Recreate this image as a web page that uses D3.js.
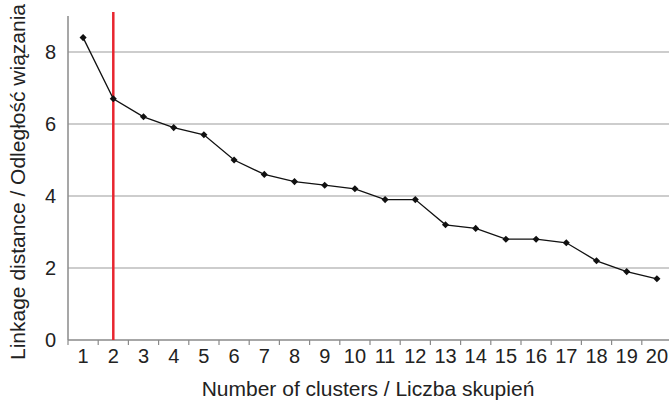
<!DOCTYPE html>
<html>
<head>
<meta charset="utf-8">
<script src="https://cdn.jsdelivr.net/npm/d3@7"></script>
<style>
  body { margin: 0; background: #fff; }
  svg text { font-family: "Liberation Sans", Arial, sans-serif; fill: #222; }
</style>
</head>
<body>
<svg width="669" height="404"></svg>
<script>
const clusters = d3.range(1, 21);
const distances = [8.4, 6.7, 6.2, 5.9, 5.7, 5.0, 4.6, 4.4, 4.3, 4.2,
                   3.9, 3.9, 3.2, 3.1, 2.8, 2.8, 2.7, 2.2, 1.9, 1.7];
const yTicks = [0, 2, 4, 6, 8];
const markedCluster = 2;

const svg = d3.select('svg');
const plotLeft = 68, plotRight = 672, plotTop = 16, plotBottom = 340;

let x = d3.scaleBand()
    .domain(clusters)
    .range([plotLeft, plotRight]);

let y = d3.scaleLinear()
    .domain([0, 9])
    .range([plotBottom, plotTop]);

// grid
svg.append('g')
    .selectAll('line')
    .data(yTicks.filter(d => d > 0))
    .enter().append('line')
    .attr('x1', plotLeft).attr('x2', 669)
    .attr('y1', d => y(d)).attr('y2', d => y(d))
    .attr('stroke', '#bdbdbd')
    .attr('stroke-width', 1.5);

// y axis
let yAxis = svg.append('g')
    .attr('transform', `translate(${plotLeft},0)`)
    .call(d3.axisLeft(y).tickValues(yTicks).tickSize(0).tickPadding(12));
yAxis.select('.domain').attr('stroke', '#8a8a8a').attr('stroke-width', 1.5)
    .attr('d', `M0,${plotTop}V${plotBottom}`);
yAxis.selectAll('.tick text').style('font-size', '20px').attr('fill', '#222');

// x axis
let xAxis = svg.append('g')
    .attr('transform', `translate(0,${plotBottom})`)
    .call(d3.axisBottom(x).tickSize(0).tickPadding(9));
xAxis.select('.domain').attr('stroke', '#8a8a8a').attr('stroke-width', 1.5)
    .attr('d', `M${plotLeft},0H669`);
xAxis.selectAll('.tick text').style('font-size', '20px').attr('fill', '#222');
xAxis.selectAll('.sep')
    .data(clusters)
    .enter().append('line')
    .attr('class', 'sep')
    .attr('x1', d => x(d)).attr('x2', d => x(d))
    .attr('y1', 0).attr('y2', 5)
    .attr('stroke', '#8a8a8a')
    .attr('stroke-width', 1.2);

const cx = d => x(d) + x.bandwidth() / 2;

// red marker line
svg.append('line')
    .attr('x1', cx(markedCluster)).attr('x2', cx(markedCluster))
    .attr('y1', 12).attr('y2', plotBottom)
    .attr('stroke', '#e8252f')
    .attr('stroke-width', 2.5);

// series
const pts = clusters.map((c, i) => ({ c: c, v: distances[i] }));
svg.append('path')
    .datum(pts)
    .attr('fill', 'none')
    .attr('stroke', '#111')
    .attr('stroke-width', 1.3)
    .attr('d', d3.line().x(d => cx(d.c)).y(d => y(d.v)));

svg.append('g')
    .selectAll('path')
    .data(pts)
    .enter().append('path')
    .attr('d', d3.symbol().type(d3.symbolDiamond2).size(32))
    .attr('transform', d => `translate(${cx(d.c)},${y(d.v)})`)
    .attr('fill', '#111');

// axis titles
svg.append('text')
    .attr('x', 368).attr('y', 396)
    .attr('text-anchor', 'middle')
    .style('font-size', '21px')
    .text('Number of clusters / Liczba skupień');

svg.append('text')
    .attr('transform', 'translate(25,182) rotate(-90)')
    .attr('text-anchor', 'middle')
    .style('font-size', '21px')
    .text('Linkage distance / Odległość wiązania');
</script>
</body>
</html>
